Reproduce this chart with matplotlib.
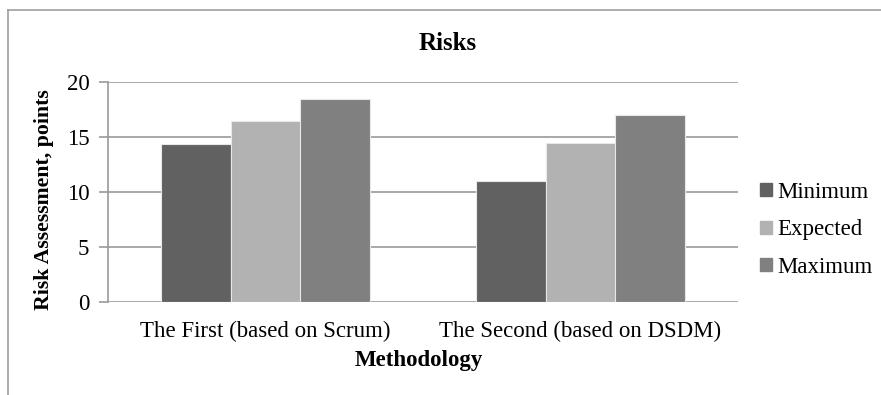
import numpy as np
import matplotlib.pyplot as plt
from matplotlib.patches import Rectangle
from matplotlib.lines import Line2D

categories = ["The First (based on Scrum)", "The Second (based on DSDM)"]
series = ["Minimum", "Expected", "Maximum"]
minimum = [14.4, 11.0]
expected = [16.5, 14.5]
maximum = [18.5, 17.0]
colors = ["#616161", "#b2b2b2", "#808080"]

plt.rcParams["font.family"] = ["Liberation Serif", "DejaVu Serif"]

W, H = 881, 395
fig = plt.figure(figsize=(W / 100, H / 100), dpi=100)
# plot area in pixel coords
x0, x1, ytop, ybot = 108, 738, 82, 302
ax = fig.add_axes([x0 / W, 1 - ybot / H, (x1 - x0) / W, (ybot - ytop) / H])

# outer chart frame (only top and left visible)
fig.add_artist(Line2D([8 / W, 1], [1 - 10 / H, 1 - 10 / H], color="#a0a0a0", lw=1.2, transform=fig.transFigure))
fig.add_artist(Line2D([8 / W, 8 / W], [1 - 10 / H, 0], color="#a0a0a0", lw=1.2, transform=fig.transFigure))

x = np.arange(len(categories))
bw = 0.222
for i, (vals, c) in enumerate(zip([minimum, expected, maximum], colors)):
    ax.bar(x + (i - 1) * bw, vals, width=bw, color=c, edgecolor="#e8e8e8", linewidth=0.8, zorder=3)

ax.set_xlim(-0.5, 1.5)
ax.set_ylim(0, 20)
ax.set_yticks([0, 5, 10, 15, 20])
ax.yaxis.grid(True, color="#9a9a9a", lw=1.2, zorder=0)
ax.set_axisbelow(True)
for s in ["top", "right", "bottom"]:
    ax.spines[s].set_visible(False)
ax.spines["left"].set_color("#9a9a9a")
ax.spines["left"].set_linewidth(1.2)
ax.tick_params(axis="y", length=6.5, width=1.2, color="#9a9a9a", labelsize=16.5, pad=7)
ax.tick_params(axis="x", length=0, labelsize=16.5, pad=13.5)
ax.set_xticks(x)
ax.set_xticklabels(categories)

fig.text(448 / W, 1 - 50 / H, "Risks", fontsize=18, fontweight="bold", ha="center", va="baseline")
fig.text(419 / W, 1 - 366 / H, "Methodology", fontsize=16.5, fontweight="bold", ha="center", va="baseline")
ax.set_ylabel("Risk Assessment, points", fontsize=15.7, fontweight="bold")
ax.yaxis.set_label_coords((54 - x0) / (x1 - x0), (ybot - 200) / (ybot - ytop))

handles = [Rectangle((0, 0), 1, 1, color=c) for c in colors]
fig.legend(handles, series, loc="center left", bbox_to_anchor=(749 / W, 1 - 230 / H),
           frameon=False, fontsize=16.5, handlelength=0.5, handleheight=0.5,
           handletextpad=0.25, labelspacing=0.72, borderpad=0)

plt.savefig("out.png", dpi=100)
